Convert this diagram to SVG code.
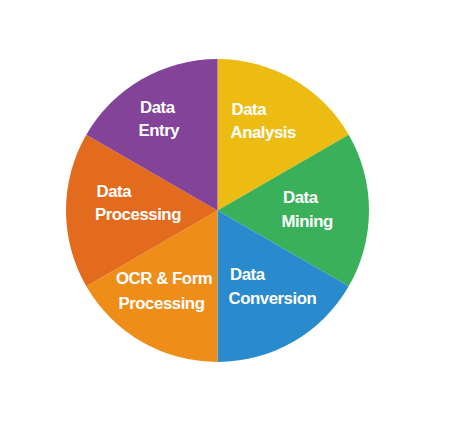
<svg xmlns="http://www.w3.org/2000/svg" width="468" height="429" viewBox="0 0 468 429">
<style>
.lbl{font-family:"Liberation Sans",Arial,sans-serif;font-weight:bold;font-size:16.8px;letter-spacing:-0.45px;fill:#ffffff}
</style>
<rect width="468" height="429" fill="#ffffff"/>
<g id="data-analysis">
<path d="M217.5,210.5 L217.5,59 A151.5,151.5 0 0 1 348.7,134.75 Z" fill="#ECBC12"/>
<text class="lbl" x="231.5" y="115">Data</text>
<text class="lbl" x="230.5" y="138">Analysis</text>
</g>
<g id="data-mining">
<path d="M217.5,210.5 L348.7,134.75 A151.5,151.5 0 0 1 348.7,286.25 Z" fill="#3BB05B"/>
<text class="lbl" x="283" y="203">Data</text>
<text class="lbl" x="281.5" y="226.5">Mining</text>
</g>
<g id="data-conversion">
<path d="M217.5,210.5 L348.7,286.25 A151.5,151.5 0 0 1 217.5,362 Z" fill="#2A8ACE"/>
<text class="lbl" x="230" y="280">Data</text>
<text class="lbl" x="228.5" y="303.5">Conversion</text>
</g>
<g id="ocr-form-processing">
<path d="M217.5,210.5 L217.5,362 A151.5,151.5 0 0 1 86.3,286.25 Z" fill="#EF8D19"/>
<text class="lbl" x="116" y="283.5">OCR &amp; Form</text>
<text class="lbl" x="118.5" y="308.5">Processing</text>
</g>
<g id="data-processing">
<path d="M217.5,210.5 L86.3,286.25 A151.5,151.5 0 0 1 86.3,134.75 Z" fill="#E26B1D"/>
<text class="lbl" x="96.5" y="196.5">Data</text>
<text class="lbl" x="95" y="220">Processing</text>
</g>
<g id="data-entry">
<path d="M217.5,210.5 L86.3,134.75 A151.5,151.5 0 0 1 217.5,59 Z" fill="#824399"/>
<text class="lbl" x="140" y="112.5">Data</text>
<text class="lbl" x="138.5" y="136">Entry</text>
</g>
<g id="connectors"/>
</svg>
